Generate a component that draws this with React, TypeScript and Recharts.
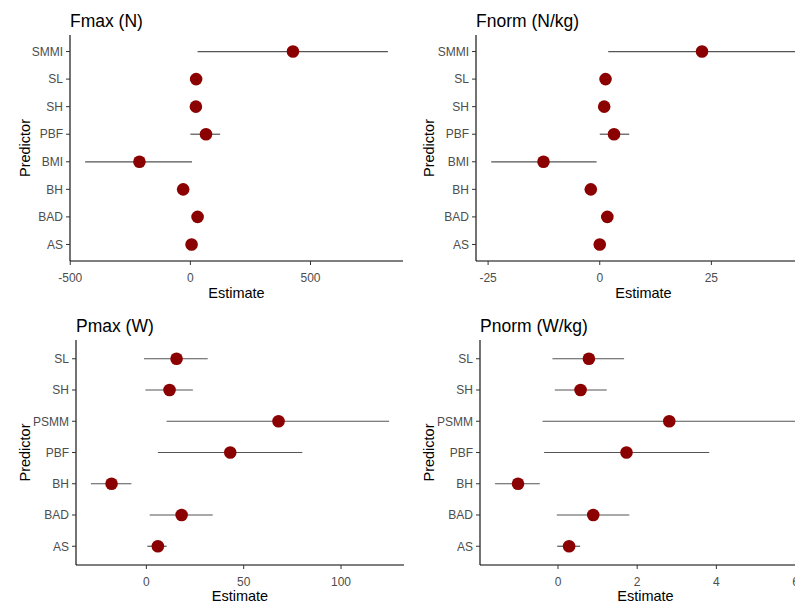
import React from 'react';
import { ErrorBar, Label, Scatter, ScatterChart, XAxis, YAxis } from 'recharts';

// Fmax (N)
const fmaxPredictors = ['AS', 'BAD', 'BH', 'BMI', 'PBF', 'SH', 'SL', 'SMMI'];
const fmaxEstimate = [5, 30, -30, -212, 65, 23, 24, 427];
const fmaxLow = [-10, 15, -45, -438, 0, 8, 9, 30];
const fmaxHigh = [20, 45, -15, 7, 124, 38, 39, 822];
const fmaxTicks = [-500, 0, 500];

// Fnorm (N/kg)
const fnormPredictors = ['AS', 'BAD', 'BH', 'BMI', 'PBF', 'SH', 'SL', 'SMMI'];
const fnormEstimate = [0, 1.7, -2.0, -12.6, 3.2, 1.0, 1.3, 22.9];
const fnormLow = [-1, 0.7, -3, -24.3, 0, 0, 0.3, 1.9];
const fnormHigh = [1, 2.7, -1, -0.7, 6.6, 2, 2.3, 43.9];
const fnormTicks = [-25, 0, 25];

// Pmax (W)
const pmaxPredictors = ['AS', 'BAD', 'BH', 'PBF', 'PSMM', 'SH', 'SL'];
const pmaxEstimate = [5.9, 18.1, -17.9, 43.1, 67.9, 11.9, 15.5];
const pmaxLow = [0.5, 1.7, -28.5, 5.9, 10.4, -0.5, -1.2];
const pmaxHigh = [10.4, 34.1, -7.7, 80.1, 124.7, 23.9, 31.5];
const pmaxTicks = [0, 50, 100];

// Pnorm (W/kg)
const pnormPredictors = ['AS', 'BAD', 'BH', 'PBF', 'PSMM', 'SH', 'SL'];
const pnormEstimate = [0.28, 0.89, -1.01, 1.73, 2.81, 0.57, 0.78];
const pnormLow = [-0.02, -0.03, -1.59, -0.35, -0.39, -0.08, -0.14];
const pnormHigh = [0.56, 1.8, -0.46, 3.82, 6.01, 1.23, 1.67];
const pnormTicks = [0, 2, 4, 6];

const FONT = '"Liberation Sans", Arial, Helvetica, sans-serif';
const TICK_STYLE = { fill: '#4D4D4D', fontSize: 12 };

interface PanelProps {
  title: string;
  predictors: string[];
  estimate: number[];
  low: number[];
  high: number[];
  ticks: number[];
  left: number;
  top: number;
  width: number;
  height: number;
  plotTop: number;
  yAxisWidth: number;
  xAxisHeight: number;
  yLabelX: number;
  xLabelY: number;
}

function Panel(p: PanelProps) {
  const data = p.predictors.map((name, i) => ({
    name,
    y: i + 1,
    est: p.estimate[i],
    err: [p.estimate[i] - p.low[i], p.high[i] - p.estimate[i]],
  }));
  // ggplot-like 5% expansion
  const lo = Math.min(...p.low);
  const hi = Math.max(...p.high);
  const pad = (hi - lo) * 0.05;
  const n = p.predictors.length;

  return (
    <div style={{ position: 'absolute', left: p.left, top: p.top, width: p.width, height: p.height }}>
      <div
        style={{
          position: 'absolute',
          left: p.yAxisWidth,
          top: p.plotTop - 24.5,
          fontSize: 17.5,
          color: '#000',
          whiteSpace: 'nowrap',
          lineHeight: 'normal',
        }}
      >
        {p.title}
      </div>
      <ScatterChart
        width={p.width}
        height={p.height}
        margin={{ top: p.plotTop, right: 0, bottom: 0, left: 0 }}
      >
        <XAxis
          type="number"
          dataKey="est"
          domain={[lo - pad, hi + pad]}
          ticks={p.ticks}
          interval={0}
          allowDataOverflow
          height={p.xAxisHeight}
          tick={TICK_STYLE}
          tickSize={4}
          tickMargin={8}
          tickLine={{ stroke: '#333333' }}
          axisLine={{ stroke: '#000000', strokeWidth: 1.1 }}
        >
          <Label
            content={({ viewBox }: any) => (
              <text
                x={viewBox.x + viewBox.width / 2}
                y={p.xLabelY}
                textAnchor="middle"
                fontSize={14.5}
                fill="#000"
              >
                Estimate
              </text>
            )}
          />
        </XAxis>
        <YAxis
          type="number"
          dataKey="y"
          domain={[0.4, n + 0.6]}
          ticks={data.map((d) => d.y)}
          tickFormatter={(v: number) => p.predictors[v - 1] ?? ''}
          interval={0}
          width={p.yAxisWidth}
          tick={TICK_STYLE}
          tickSize={4}
          tickMargin={3}
          tickLine={{ stroke: '#333333' }}
          axisLine={{ stroke: '#000000', strokeWidth: 1.1 }}
        >
          <Label
            content={({ viewBox }: any) => {
              const cy = viewBox.y + viewBox.height / 2;
              return (
                <text
                  x={p.yLabelX}
                  y={cy}
                  textAnchor="middle"
                  fontSize={14.5}
                  fill="#000"
                  transform={`rotate(-90, ${p.yLabelX}, ${cy})`}
                >
                  Predictor
                </text>
              );
            }}
          />
        </YAxis>
        <Scatter
          data={data}
          fill="#8B0000"
          isAnimationActive={false}
          shape={(s: any) => <circle cx={s.cx} cy={s.cy} r={6.3} fill="#8B0000" />}
        >
          <ErrorBar
            dataKey="err"
            direction="x"
            width={0}
            stroke="#555555"
            strokeWidth={1.2}
            isAnimationActive={false}
          />
        </Scatter>
      </ScatterChart>
    </div>
  );
}

export default function App() {
  return (
    <div
      style={{
        position: 'fixed',
        left: 0,
        top: 0,
        width: 795,
        height: 606,
        overflow: 'hidden',
        background: '#fff',
        fontFamily: FONT,
      }}
    >
      <Panel
        title="Fmax (N)"
        predictors={fmaxPredictors}
        estimate={fmaxEstimate}
        low={fmaxLow}
        high={fmaxHigh}
        ticks={fmaxTicks}
        left={0}
        top={0}
        width={403}
        height={300}
        plotTop={35}
        yAxisWidth={70}
        xAxisHeight={39}
        yLabelX={30}
        xLabelY={297.7}
      />
      <Panel
        title="Fnorm (N/kg)"
        predictors={fnormPredictors}
        estimate={fnormEstimate}
        low={fnormLow}
        high={fnormHigh}
        ticks={fnormTicks}
        left={400}
        top={0}
        width={411}
        height={300}
        plotTop={35}
        yAxisWidth={76}
        xAxisHeight={39}
        yLabelX={34}
        xLabelY={297.7}
      />
      <Panel
        title="Pmax (W)"
        predictors={pmaxPredictors}
        estimate={pmaxEstimate}
        low={pmaxLow}
        high={pmaxHigh}
        ticks={pmaxTicks}
        left={0}
        top={300}
        width={404}
        height={306}
        plotTop={40}
        yAxisWidth={76}
        xAxisHeight={41}
        yLabelX={30}
        xLabelY={300.5}
      />
      <Panel
        title="Pnorm (W/kg)"
        predictors={pnormPredictors}
        estimate={pnormEstimate}
        low={pnormLow}
        high={pnormHigh}
        ticks={pnormTicks}
        left={400}
        top={300}
        width={411}
        height={306}
        plotTop={40}
        yAxisWidth={80}
        xAxisHeight={41}
        yLabelX={34}
        xLabelY={300.5}
      />
    </div>
  );
}
